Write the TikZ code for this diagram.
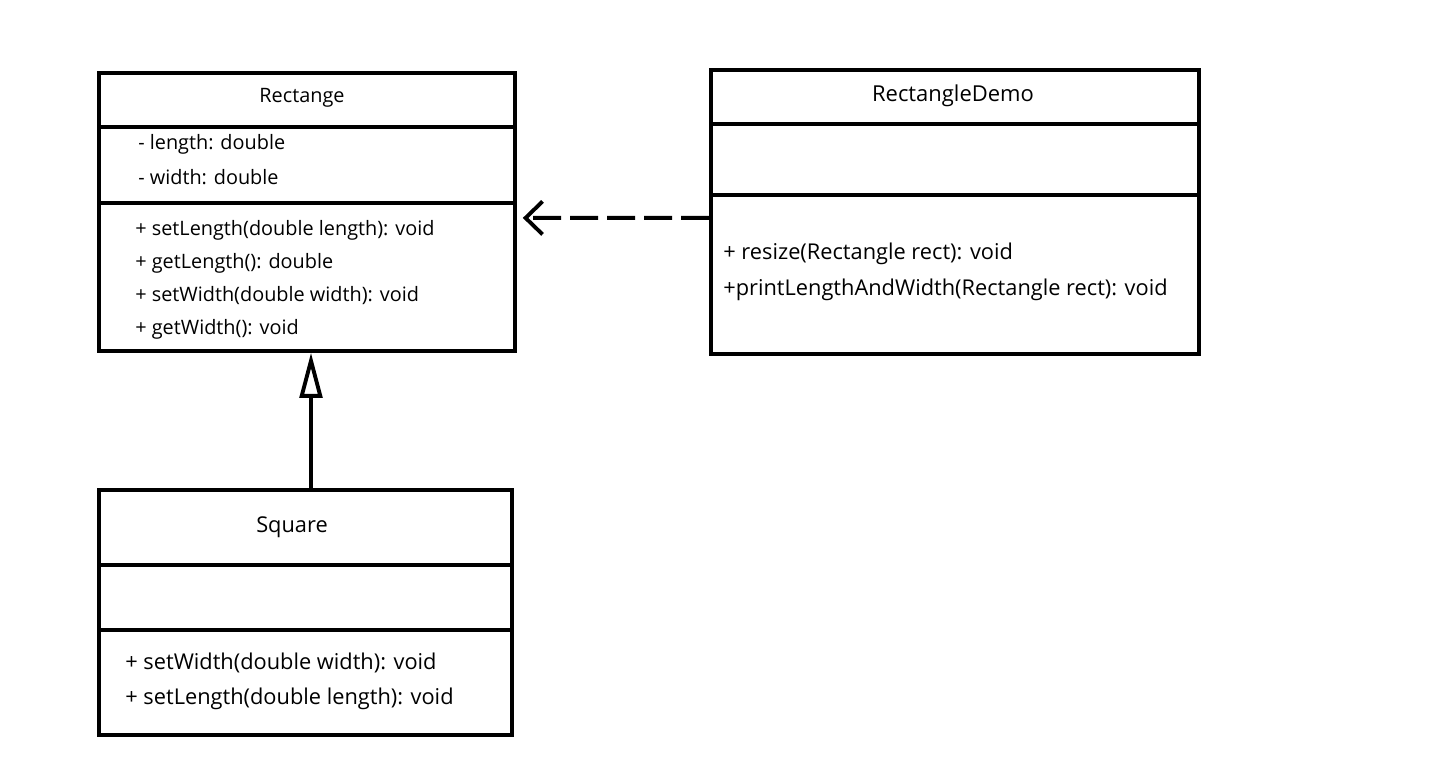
\documentclass[tikz,border=0pt]{standalone}
\usepackage{fontspec}
\setmainfont{Open Sans}
\usetikzlibrary{arrows.meta, positioning}

\tikzset{
  classbox/.style={draw, line width=2.2pt, inner sep=0pt, anchor=north west},
  divider/.style={line width=2.2pt},
  member/.style={anchor=west, inner sep=0pt, font=\fontsize{11.3}{13}\selectfont},
  bigmember/.style={anchor=west, inner sep=0pt, font=\fontsize{12.4}{14}\selectfont},
}

\begin{document}
\begin{tikzpicture}[x=0.02cm, y=-0.02cm]
            \useasboundingbox (0,0) rectangle (1442,782);

            % Rectange
            \node[classbox, minimum width=8.32cm, minimum height=5.56cm] (rect) at (97,71) {};
            \draw[divider] (97,127) -- (513,127);
            \draw[divider] (97,203) -- (513,203);
            \node[font=\fontsize{11.3}{13}\selectfont] (rectname) at (302,98) {Rectange};
            \node[member] (rectlen) at (138,144) {- length: double};
            \node[member] (rectwid) at (138,177) {- width: double};
            \node[member] (setlen) at (135,230) {+ setLength(double length): void};
            \node[member] (getlen) at (135,263) {+ getLength(): double};
            \node[member] (setwid) at (135,296) {+ setWidth(double width): void};
            \node[member] (getwid) at (135,329) {+ getWidth(): void};

            % RectangleDemo
            \node[classbox, minimum width=9.76cm, minimum height=5.68cm] (demo) at (709,68) {};
            \draw[divider] (709,124) -- (1197,124);
            \draw[divider] (709,195) -- (1199,195);
            \node[font=\fontsize{12.5}{14}\selectfont] (demoname) at (953,96) {RectangleDemo};
            \node[bigmember] (resize) at (723,254) {+ resize(Rectangle rect): void};
            \node[bigmember] (print) at (723,290) {+printLengthAndWidth(Rectangle rect): void};

            % Square
            \node[classbox, minimum width=8.26cm, minimum height=4.9cm] (sq) at (97,488) {};
            \draw[divider] (97,565) -- (510,565);
            \draw[divider] (97,630) -- (510,630);
            \node[font=\fontsize{12.4}{14}\selectfont] (sqname) at (292,527) {Square};
            \node[bigmember] (sqsetwid) at (125,663) {+ setWidth(double width): void};
            \node[bigmember] (sqsetlen) at (125,699) {+ setLength(double length): void};

            % relations
            \draw[line width=2.2pt, -{Triangle[open, length=0.9cm, width=0.45cm]}]
                (sq.north -| 311,0) -- (rect.south -| 311,0);
            \draw[line width=2.2pt, dash pattern=on 0.56cm off 0.18cm,
                  -{Straight Barb[length=0.34cm, width=0.66cm]}, shorten >=0.12cm]
                ([yshift=-0.12cm]demo.west) -- ([yshift=-0.12cm]rect.east);
        \end{tikzpicture}
\end{document}
